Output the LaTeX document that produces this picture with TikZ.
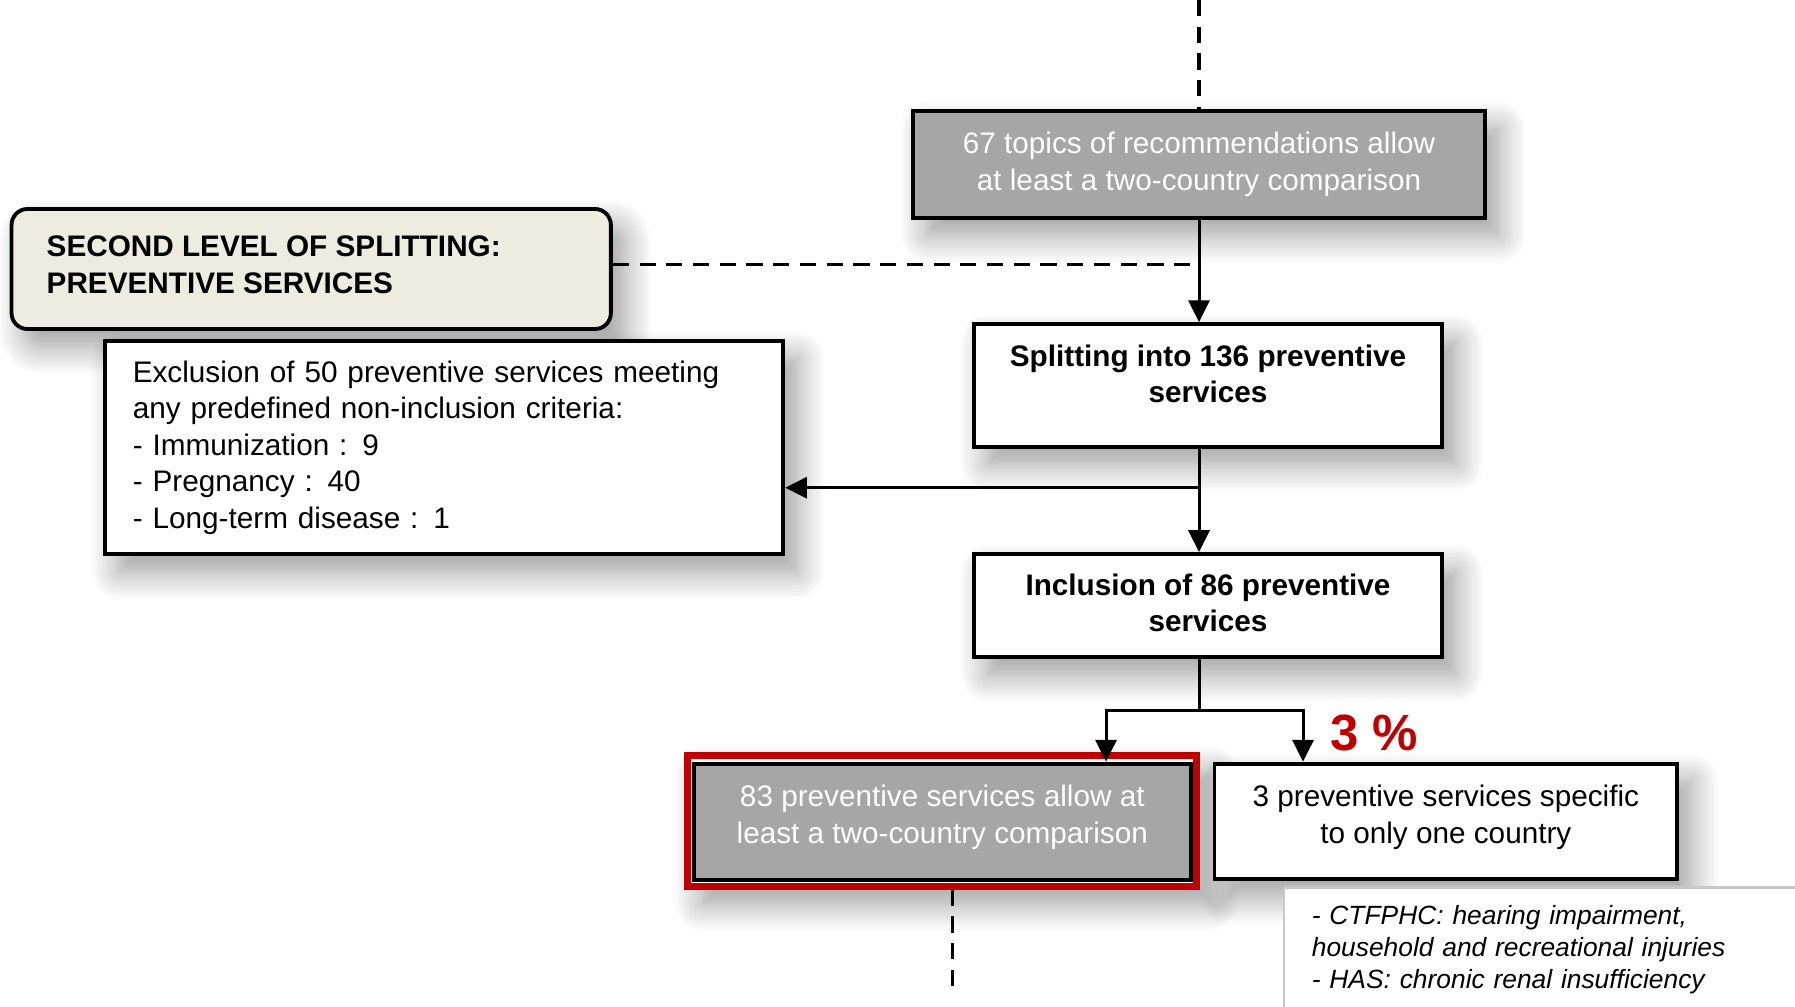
\documentclass[tikz,border=0pt]{standalone}
\usepackage{fontspec}
\setmainfont{Liberation Sans}
\usetikzlibrary{arrows.meta,shadows.blur,calc}
\definecolor{boxgray}{HTML}{A6A6A6}
\definecolor{headbeige}{HTML}{EEEBE0}
\definecolor{alertred}{HTML}{C00000}
\definecolor{notegray}{HTML}{C8C8C8}
\tikzset{
  softshadow/.style={blur shadow={shadow xshift=4pt, shadow yshift=-5pt, shadow blur radius=8pt, shadow blur steps=12, shadow opacity=40}},
  basetext/.style={font=\fontsize{8.45}{10.4}\selectfont},
  boldtext/.style={font=\fontsize{8.45}{10.4}\selectfont\bfseries},
  flowbox/.style={basetext, draw=black, line width=1.1pt, fill=white, rectangle, inner sep=0pt, align=center, softshadow},
  graybox/.style={flowbox, fill=boxgray, text=white},
  boldbox/.style={flowbox, boldtext},
  headbox/.style={draw=black, line width=1.1pt, fill=headbeige, rounded corners=0.16cm, inner sep=0pt, softshadow},
  notebox/.style={draw=notegray, line width=0.6pt, fill=white, inner sep=0pt, align=left,
    font=\fontsize{7.5}{9.1}\selectfont\itshape},
  redframe/.style={draw=alertred, line width=2pt, fill=white, inner sep=0pt, softshadow},
  link/.style={draw=black, line width=0.85pt},
  arrowlink/.style={link, -{Triangle[width=6pt,length=6.2pt]}},
  dashlink/.style={draw=black, line width=0.9pt, dash pattern=on 4.6pt off 3pt},
}
\begin{document}
\begin{tikzpicture}[x=0.01cm,y=-0.01cm]
\useasboundingbox (0,0) rectangle (1795,1006);

% boxes
\node[graybox, minimum width=5.71cm, minimum height=1.065cm] (n67) at (1199,164.3)
  {67 topics of recommendations allow\\at least a two-country comparison};
\node[headbox, minimum width=5.99cm, minimum height=1.2cm] (head) at (311.2,269) {};
\node[boldtext, align=left, anchor=west, inner sep=0pt] (headlbl) at (46,264.5)
  {SECOND LEVEL OF SPLITTING:\\PREVENTIVE SERVICES};
\node[flowbox, align=left, minimum width=6.78cm, minimum height=2.13cm, text width=6.22cm] (excl) at (444,447.5)
  {Exclusion of 50 preventive services meeting\\any predefined non-inclusion criteria:\\- Immunization : 9\\- Pregnancy : 40\\- Long-term disease : 1};
\node[boldbox, minimum width=4.68cm, minimum height=1.225cm] (split) at (1208,385.3) {};
\node[boldtext, align=center] (splitlbl) at (1208,374)
  {Splitting into 136 preventive\\services};
\node[boldbox, minimum width=4.68cm, minimum height=1.03cm] (incl) at (1208,605.5) {};
\node[boldtext, align=center] (incllbl) at (1208,603)
  {Inclusion of 86 preventive\\services};
\node[redframe, minimum width=5.084cm, minimum height=1.305cm] (frame) at (942.3,820.8) {};
\node[basetext, draw=black, line width=1.1pt, fill=boxgray, inner sep=0pt,
  minimum width=4.966cm, minimum height=1.164cm] (n83) at (942.3,821.8) {};
\node[basetext, text=white, align=center] (n83lbl) at (942.3,817.5)
  {83 preventive services allow at\\least a two-country comparison};
\node[flowbox, minimum width=4.624cm, minimum height=1.154cm] (n3) at (1445.8,821.3) {};
\node[basetext, align=center] (n3lbl) at (1445.8,817.5)
  {3 preventive services specific\\to only one country};
\node[notebox, minimum width=5.3cm, minimum height=1.24cm, text width=4.75cm] (note) at (1549.5,949.5)
  {- CTFPHC: hearing impairment,\\household and recreational injuries\\- HAS: chronic renal insufficiency};
\node[text=alertred, font=\fontsize{14.5}{16}\selectfont\bfseries] (pct) at (1374,732.7) {3 \%};

% connectors
\coordinate (topin) at (1199,0);
\coordinate (exclbranch) at (1199,487.7);
\coordinate (forkL) at (1106,710);
\coordinate (forkR) at (1303,710);
\coordinate (outB) at (952.5,987);

\draw[dashlink] (topin) -- (n67.north);
\draw[dashlink] (head.east |- headlbl.west) -- (headlbl.west -| n67.south);
\draw[arrowlink] (n67.south) -- (n67.south |- split.north);
\draw[arrowlink] (split.south -| n67.south) -- (incl.north -| n67.south);
\draw[arrowlink] (exclbranch) -- (exclbranch -| excl.east);
\draw[arrowlink] (incl.south -| n67.south) |- (forkL) -- (forkL |- n83.north);
\draw[arrowlink] (forkL) -- (forkR) -- (forkR |- n3.north);
\draw[dashlink] (outB |- frame.south) -- (outB);
\end{tikzpicture}
\end{document}
